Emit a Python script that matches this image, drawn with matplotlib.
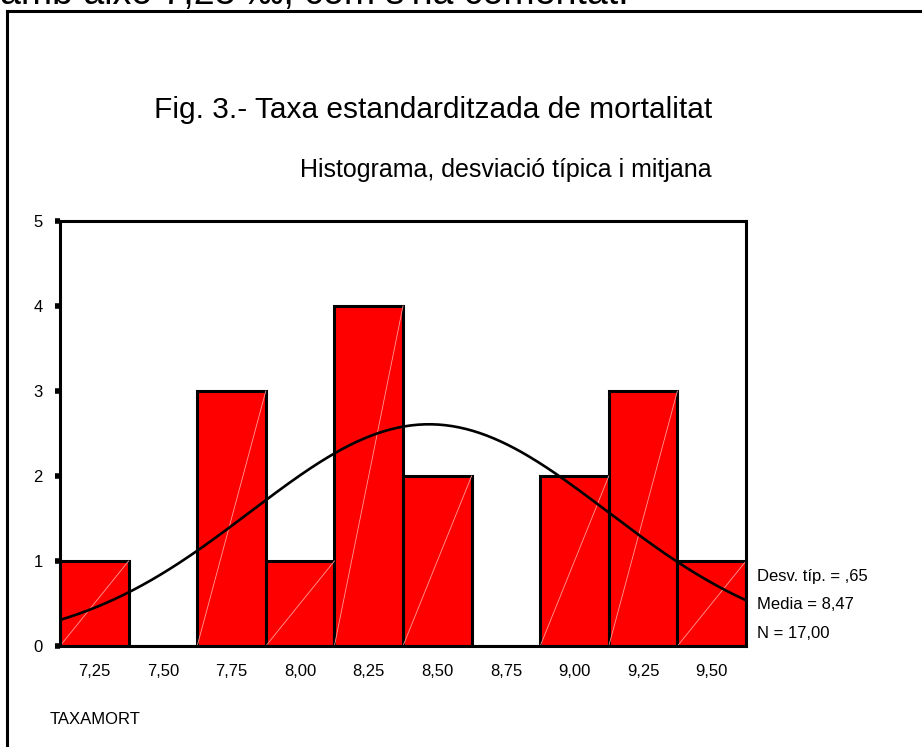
import matplotlib
matplotlib.use('Agg')
import matplotlib.pyplot as plt
import numpy as np

# histogram data
bin_centers = [7.25, 7.50, 7.75, 8.00, 8.25, 8.50, 8.75, 9.00, 9.25, 9.50]
counts = [1, 0, 3, 1, 4, 2, 0, 2, 3, 1]
tick_labels = ['7,25', '7,50', '7,75', '8,00', '8,25', '8,50', '8,75', '9,00', '9,25', '9,50']
y_ticks = [0, 1, 2, 3, 4, 5]

mean_val = 8.47
sd_val = 0.65
n_val = 17
bin_width = 0.25

plt.rcParams['font.family'] = ['Liberation Sans', 'DejaVu Sans']

fig = plt.figure(figsize=(9.22, 7.47), dpi=100)

# outer frame (only left and top visible)
fig.add_artist(plt.Line2D([7 / 922, 7 / 922], [0, 1 - 10.5 / 747], color='black', lw=2.2,
                          transform=fig.transFigure))
fig.add_artist(plt.Line2D([7 / 922, 1.0], [1 - 10.5 / 747, 1 - 10.5 / 747], color='black', lw=2.2,
                          transform=fig.transFigure))

# clipped line of body text above the frame
fig.text(0 / 922, 1 - 4 / 747, "amb això 7,23 ‰, com s'ha comentat.", fontsize=27,
         va='baseline', ha='left')

ax = fig.add_axes([60 / 922, 101 / 747, 686 / 922, 425 / 747])

ax.bar(bin_centers, counts, width=bin_width, color='#ff0000', edgecolor='black',
       linewidth=2.2, zorder=2)
# thin light diagonal seen in each bar
for c, h in zip(bin_centers, counts):
    if h > 0:
        ax.plot([c - bin_width / 2, c + bin_width / 2], [0, h], color='#ff9a9a',
                lw=0.6, zorder=3)

# fitted normal curve
x0 = bin_centers[0] - bin_width / 2
x1 = bin_centers[-1] + bin_width / 2
xs = np.linspace(x0, x1, 300)
ys = n_val * bin_width / (sd_val * np.sqrt(2 * np.pi)) * np.exp(-0.5 * ((xs - mean_val) / sd_val) ** 2)
ax.plot(xs, ys, color='black', lw=1.9, zorder=4)

ax.set_xlim(x0, x1)
ax.set_ylim(0, 5)
ax.set_xticks(bin_centers)
ax.set_xticklabels(tick_labels)
ax.set_yticks(y_ticks)
ax.tick_params(axis='x', length=0, pad=13, labelsize=12)
ax.tick_params(axis='y', length=3.5, width=4, direction='out', pad=9, labelsize=12)
for s in ax.spines.values():
    s.set_linewidth(2.2)
    s.set_zorder(5)

fig.text(433 / 922, 1 - 110 / 747, 'Fig. 3.- Taxa estandarditzada de mortalitat', fontsize=21.5,
         ha='center', va='center')
fig.text(506 / 922, 1 - 170 / 747, 'Histograma, desviació típica i mitjana', fontsize=18,
         ha='center', va='center')

stats = ['Desv. típ. = ,%02d' % round(sd_val * 100),
         'Media = %s' % ('%.2f' % mean_val).replace('.', ','),
         'N = %s' % ('%.2f' % n_val).replace('.', ',')]
for i, s in enumerate(stats):
    fig.text(757 / 922, 1 - (576 + 28.5 * i) / 747, s, fontsize=12, ha='left', va='center')

fig.text(50 / 922, 1 - 720 / 747, 'TAXAMORT', fontsize=12, ha='left', va='center')

fig.savefig('out.png', dpi=100)
